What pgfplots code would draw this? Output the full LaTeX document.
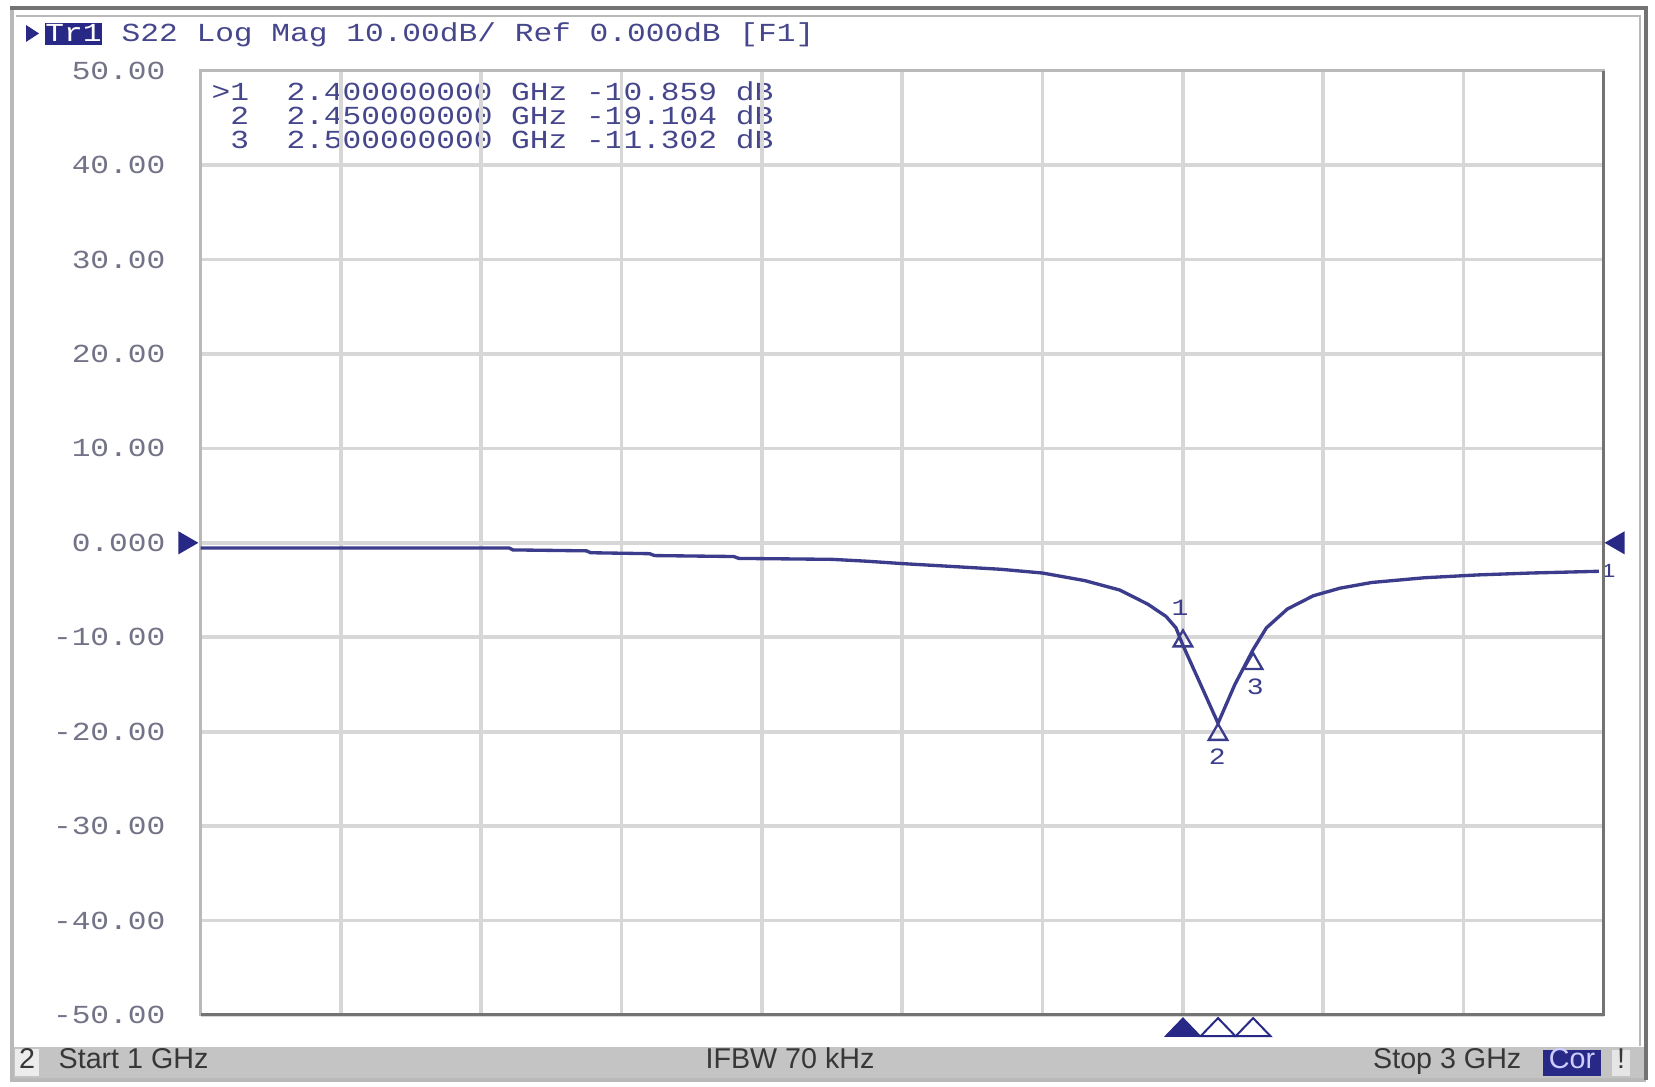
\documentclass[border=0pt]{standalone}
\usepackage{pgfplots}
\pgfplotsset{compat=1.18}
\usepackage{fontspec}
\setmainfont{Liberation Sans}
\newfontfamily\vna[FakeStretch=1.2]{Liberation Mono}
\definecolor{navy}{RGB}{40,40,135}
\definecolor{trace}{RGB}{60,60,140}
\definecolor{txt}{RGB}{70,70,140}
\definecolor{tickc}{RGB}{115,115,135}
\definecolor{gridc}{RGB}{215,215,215}
\definecolor{barbg}{RGB}{196,196,196}
\definecolor{framed}{RGB}{115,115,115}
\definecolor{framel}{RGB}{185,185,185}
\definecolor{statustxt}{RGB}{55,55,55}

\begin{document}
\begin{tikzpicture}
\useasboundingbox (0,0) rectangle (496.5pt,326.1pt);
\begin{scope}[x=0.3pt,y=-0.3pt,shift={(0,-1087)}]
  \fill[white] (0,0) rectangle (1655,1087);
  % window frame
  \draw[framel, line width=1pt] (12,8) -- (12,1080) -- (1646,1080);
  \draw[framed, line width=1pt] (10,8) -- (1646,8) -- (1646,1080);
  \draw[framel, line width=0.8pt] (16,16) -- (1640,16) -- (1640,1046);
  % status bar
  \fill[barbg] (14,1047) rectangle (1644,1078);
  \fill[gray!15] (15,1049) rectangle (39,1076);
  \node[font=\fontsize{8.6}{10}\selectfont, text=statustxt, anchor=base] at (27,1069) {2};
  \node[font=\fontsize{8.6}{10}\selectfont, text=statustxt, anchor=base west, inner sep=0pt] at (58,1069) {Start 1 GHz};
  \node[font=\fontsize{8.6}{10}\selectfont, text=statustxt, anchor=base, inner sep=0pt] at (790,1069) {IFBW 70 kHz};
  \node[font=\fontsize{8.6}{10}\selectfont, text=statustxt, anchor=base east, inner sep=0pt] at (1522,1069) {Stop 3 GHz};
  \fill[navy] (1543,1050) rectangle (1601,1076);
  \node[font=\fontsize{8.6}{10}\selectfont, text={rgb,255:red,205;green,205;blue,255}, anchor=base, inner sep=0pt] at (1572,1069) {Cor};
  \fill[gray!20] (1612,1050) rectangle (1630,1076);
  \node[font=\fontsize{8.6}{10}\selectfont, text=statustxt, anchor=base, inner sep=0pt] at (1621,1069) {!};
  % title
  \fill[navy] (26,25) -- (39,33.5) -- (26,42) -- cycle;
  \fill[navy] (45,23) rectangle (102,45);
  \node[font=\vna\fontsize{7.8}{9}\selectfont, text=white, anchor=base, inner sep=0pt] at (73.5,42) {Tr1};
  \node[font=\vna\fontsize{7.8}{9}\selectfont, text=txt, anchor=base west, inner sep=0pt] at (121,42) {S22 Log Mag 10.00dB/ Ref 0.000dB [F1]};
  % marker readout
  \node[font=\vna\fontsize{7.8}{9}\selectfont, text=txt, anchor=base west, inner sep=0pt] at (211,101) {>1~~2.400000000 GHz -10.859 dB};
  \node[font=\vna\fontsize{7.8}{9}\selectfont, text=txt, anchor=base west, inner sep=0pt] at (211,125) {\phantom{>}2~~2.450000000 GHz -19.104 dB};
  \node[font=\vna\fontsize{7.8}{9}\selectfont, text=txt, anchor=base west, inner sep=0pt] at (211,149) {\phantom{>}3~~2.500000000 GHz -11.302 dB};
\end{scope}

\begin{axis}[
  at={(60.15pt,21.6pt)}, anchor=south west,
  scale only axis, width=421.05pt, height=283.3pt,
  xmin=1, xmax=3, ymin=-50, ymax=50,
  xtick={1.2,1.4,1.6,1.8,2.0,2.2,2.4,2.6,2.8},
  xticklabels={},
  ytick={-50,-40,-30,-20,-10,0,10,20,30,40,50},
  yticklabels={-50.00,-40.00,-30.00,-20.00,-10.00,0.000,10.00,20.00,30.00,40.00,50.00},
  grid=major,
  major grid style={gridc, line width=1.1pt},
  major tick length=0pt,
  axis line style={framel, line width=0.9pt},
  yticklabel style={font=\vna\fontsize{7.8}{9}\selectfont, text=tickc, anchor=east, xshift=-7pt},
  clip=false,
]
\addplot[trace, line width=1pt] coordinates {
(1.000,-0.55) (1.200,-0.55) (1.440,-0.55) (1.445,-0.75) (1.550,-0.85) (1.556,-1.05)
(1.640,-1.15) (1.647,-1.35) (1.760,-1.45) (1.767,-1.65) (1.900,-1.75) (1.950,-1.95)
(2.000,-2.2) (2.070,-2.5) (2.140,-2.8) (2.200,-3.2) (2.260,-4.0) (2.310,-5.0)
(2.350,-6.5) (2.376,-7.8) (2.390,-9.0) (2.400,-10.859) (2.424,-14.8) (2.450,-19.104)
(2.474,-15.0) (2.500,-11.302) (2.519,-9.0) (2.549,-7.0) (2.586,-5.6) (2.624,-4.8)
(2.669,-4.2) (2.744,-3.7) (2.820,-3.4) (2.895,-3.2) (3.000,-3.0)
};
% markers on trace
\addplot[only marks, mark=triangle, mark size=3.2pt, mark options={draw=trace, fill=white, line width=0.7pt}]
  coordinates {(2.4,-10.4) (2.45,-20.3) (2.5,-12.8)};
\node[font=\vna\fontsize{7}{8}\selectfont, text=trace] at (axis cs:2.396,-6.9) {1};
\node[font=\vna\fontsize{7}{8}\selectfont, text=trace] at (axis cs:2.449,-22.7) {2};
\node[font=\vna\fontsize{7}{8}\selectfont, text=trace] at (axis cs:2.503,-15.2) {3};
\node[font=\vna\fontsize{6}{7}\selectfont, text=trace, fill=white, inner sep=0.5pt] at (axis cs:3.006,-3.0) {1};
% marker position indicators under the axis
\addplot[only marks, mark=triangle*, mark size=6pt, mark options={fill=navy, draw=navy, yscale=0.6}]
  coordinates {(2.4,-51.6)};
\addplot[only marks, mark=triangle, mark size=6pt, mark options={fill=white, draw=navy, line width=0.6pt, yscale=0.6}]
  coordinates {(2.45,-51.6) (2.5,-51.6)};
% reference level indicators
\addplot[only marks, mark=triangle*, mark size=3.6pt, mark options={fill=navy, draw=navy, rotate=-90}]
  coordinates {(0.978,0)};
\addplot[only marks, mark=triangle*, mark size=3.6pt, mark options={fill=navy, draw=navy, rotate=90}]
  coordinates {(3.0199,0)};
\draw[framed, line width=0.9pt] (rel axis cs:0,0) -- (rel axis cs:1,0) -- (rel axis cs:1,1);
\end{axis}
\end{tikzpicture}
\end{document}
